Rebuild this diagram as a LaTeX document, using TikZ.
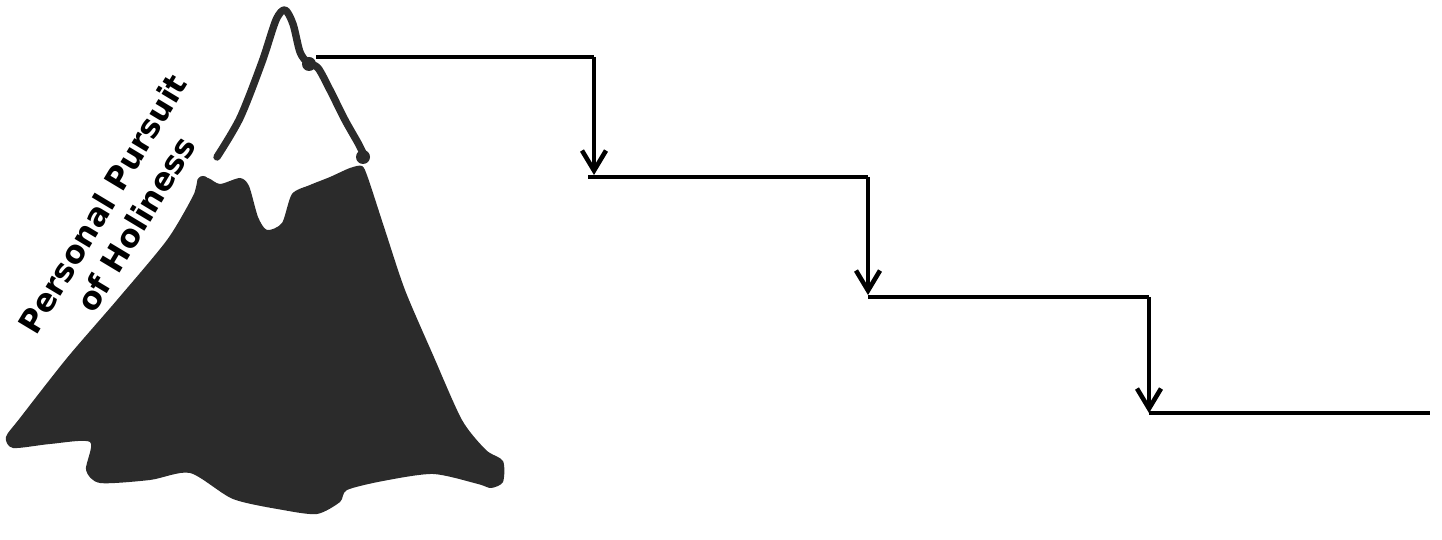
\documentclass[tikz,border=0pt]{standalone}
\usepackage{fontspec}
\setsansfont{DejaVu Sans}
\usepackage{tikz}
\usetikzlibrary{positioning,calc,arrows.meta}
\definecolor{rock}{HTML}{2B2B2B}
\tikzset{
  stair/.style={line width=1.3pt, black},
  drop/.style={line width=1.3pt, black, -{Straight Barb[length=0.2cm,width=0.24cm,line width=1.3pt]}},
  snowline/.style={draw=rock, line width=2.1pt, line cap=round, line join=round}
}
\begin{document}
\begin{tikzpicture}[x=0.01cm,y=-0.01cm]
				\useasboundingbox (0,0) rectangle (1442,540);
				% mountain body
				\fill[rock] plot[smooth cycle, tension=0.45] coordinates {(198,180) (208,178) (220,184) (240,178) (249,186) (258,217) (267,230) (282,223) (292,194) (310,185) (330,177) (350,168) (362,166) (368,178) (385,230) (405,290) (433,355) (462,420) (486,450) (503,461) (503,482) (491,488) (478,484) (433,474) (383,481) (347,490) (340,502) (317,514) (283,510) (233,499) (190,473) (150,480) (100,483) (86,470) (90,442) (50,444) (13,448) (6,437) (20,418) (67,358) (117,300) (167,240) (193,196)};
				% snow cap outline
				\draw[snowline] plot[smooth, tension=0.5] coordinates {(217,157) (240,118) (262,62) (276,20) (285,10) (293,24) (300,52) (308,63) (318,68) (330,90) (345,120) (358,143) (364,155)};
				\fill[rock] (309,64) circle (7);
				\fill[rock] (363,157) circle (7);
				\fill[rock] (203,182) circle (6);
				% label
				\node[rotate=59, align=center, font=\sffamily\bfseries\fontsize{9}{11}\selectfont] (title) at (119,214) {Personal Pursuit\\of Holiness};
				% stairs
				\coordinate (top) at (316,57);
				\coordinate (corner1) at (594,57);
				\coordinate (land1) at (594,175);
				\coordinate (step1) at (588,177);
				\coordinate (corner2) at (868,177);
				\coordinate (land2) at (868,295);
				\coordinate (step2) at (868,297);
				\coordinate (corner3) at (1149,297);
				\coordinate (land3) at (1149,413);
				\coordinate (step3) at (1149,413);
				\coordinate (bottom) at (1430,413);
				\draw[stair] (top) -- (corner1);
				\draw[drop] (corner1) -- (land1);
				\draw[stair] (step1) -- (corner2);
				\draw[drop] (corner2) -- (land2);
				\draw[stair] (step2) -- (corner3);
				\draw[drop] (corner3) -- (land3);
				\draw[stair] (step3) -- (bottom);
			\end{tikzpicture}
\end{document}
